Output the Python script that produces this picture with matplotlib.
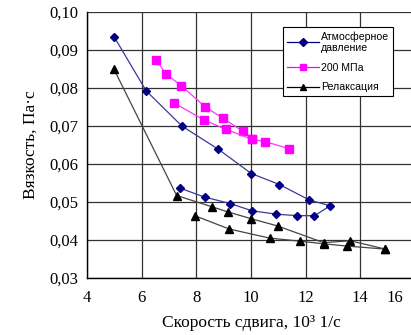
import matplotlib.pyplot as plt
from matplotlib.lines import Line2D

# Атмосферное давление (диамант, синий)
x_atm = [4.99, 6.16, 7.47, 8.80, 10.01, 11.04, 12.14, 12.90, 12.32, 11.70, 10.92, 10.03, 9.24, 8.30, 7.42]
y_atm = [0.0935, 0.0793, 0.0700, 0.0639, 0.0575, 0.0546, 0.0505, 0.0490,
         0.0464, 0.0464, 0.0468, 0.0477, 0.0496, 0.0513, 0.0536]

# 200 МПа (квадрат, пурпурный)
x_mpa_up = [6.53, 6.89, 7.45, 8.33, 8.96, 9.70, 10.03, 10.52, 11.40]
y_mpa_up = [0.0874, 0.0837, 0.0806, 0.0750, 0.0721, 0.0686, 0.0665, 0.0659, 0.0640]
x_mpa_lo = [7.18, 8.27, 9.09, 10.03]
y_mpa_lo = [0.0761, 0.0716, 0.0691, 0.0665]

# Релаксация (треугольник, черный)
x_rel_up = [4.99, 7.28, 8.59, 9.15, 10.01, 10.97, 12.66, 13.63, 14.92]
y_rel_up = [0.0849, 0.0517, 0.0487, 0.0474, 0.0456, 0.0437, 0.0393, 0.0398, 0.0376]
x_rel_lo = [7.94, 9.20, 10.68, 11.78, 12.66, 13.51, 14.92]
y_rel_lo = [0.0464, 0.0429, 0.0405, 0.0397, 0.0390, 0.0384, 0.0376]

x_ticks = [4, 6, 8, 10, 12, 14]
y_ticks = [0.03, 0.04, 0.05, 0.06, 0.07, 0.08, 0.09, 0.10]

fig = plt.figure(figsize=(4.11, 3.35), dpi=100)
ax = fig.add_axes([87 / 411, 57 / 335, 328 / 411, 266 / 335])

ax.plot(x_atm, y_atm, color='#3a3a9a', lw=0.9, marker='D', ms=3.6,
        mfc='#000080', mec='#000080', zorder=3)
ax.plot(x_mpa_up, y_mpa_up, color='#ff33ff', lw=0.9, marker='s', ms=6,
        mfc='#ff00ff', mec='#ff00ff', zorder=3)
ax.plot(x_mpa_lo, y_mpa_lo, color='#ff33ff', lw=0.9, marker='s', ms=6,
        mfc='#ff00ff', mec='#ff00ff', zorder=3)
ax.plot(x_rel_up, y_rel_up, color='#444444', lw=0.9, marker='^', ms=6,
        mfc='black', mec='black', zorder=3)
ax.plot(x_rel_lo, y_rel_lo, color='#444444', lw=0.9, marker='^', ms=6,
        mfc='black', mec='black', zorder=3)

ax.set_xlim(4, 16)
ax.set_ylim(0.03, 0.10)
ax.set_xticks(x_ticks)
ax.set_xticklabels([str(t) for t in x_ticks])
ax.set_yticks(y_ticks)
ax.set_yticklabels([('%.2f' % t).replace('.', ',') for t in y_ticks])
ax.grid(True, color='#333333', lw=0.9)
ax.set_axisbelow(True)

for s in ['top', 'right']:
    ax.spines[s].set_visible(False)
for s in ['left', 'bottom']:
    ax.spines[s].set_color('black')
    ax.spines[s].set_linewidth(1.0)

ax.tick_params(length=0, labelsize=12, pad=6)
ax.tick_params(axis='x', pad=9)
for lab in ax.get_xticklabels() + ax.get_yticklabels():
    lab.set_fontfamily('Liberation Serif')

# подпись 16 сдвинута внутрь кадра, как на исходнике
ax.text(15.28, -0.045, '16', transform=ax.get_xaxis_transform(), ha='center',
        va='top', fontsize=12, family='Liberation Serif')

ax.set_xlabel('Скорость сдвига, 10³ 1/с', fontsize=12.5, family='Liberation Serif',
              labelpad=6)
ax.set_ylabel('Вязкость, Па·с', fontsize=12.5, family='Liberation Serif', labelpad=8)

handles = [
    Line2D([], [], color='#000080', lw=0.9, marker='D', ms=3.6),
    Line2D([], [], color='#ff00ff', lw=0.9, marker='s', ms=5),
    Line2D([], [], color='black', lw=0.9, marker='^', ms=5),
]
labels = ['Атмосферное\nдавление', '200 МПа', 'Релаксация']
leg = ax.legend(handles, labels, loc='upper left', bbox_to_anchor=(0.598, 0.944),
                borderaxespad=0, fancybox=False, framealpha=1, edgecolor='black',
                prop={'family': 'Liberation Sans', 'size': 7.6},
                handlelength=3.0, handletextpad=0.2, labelspacing=0.9,
                borderpad=0.4)
leg.get_frame().set_linewidth(0.8)

fig.savefig('out.png', dpi=100)
